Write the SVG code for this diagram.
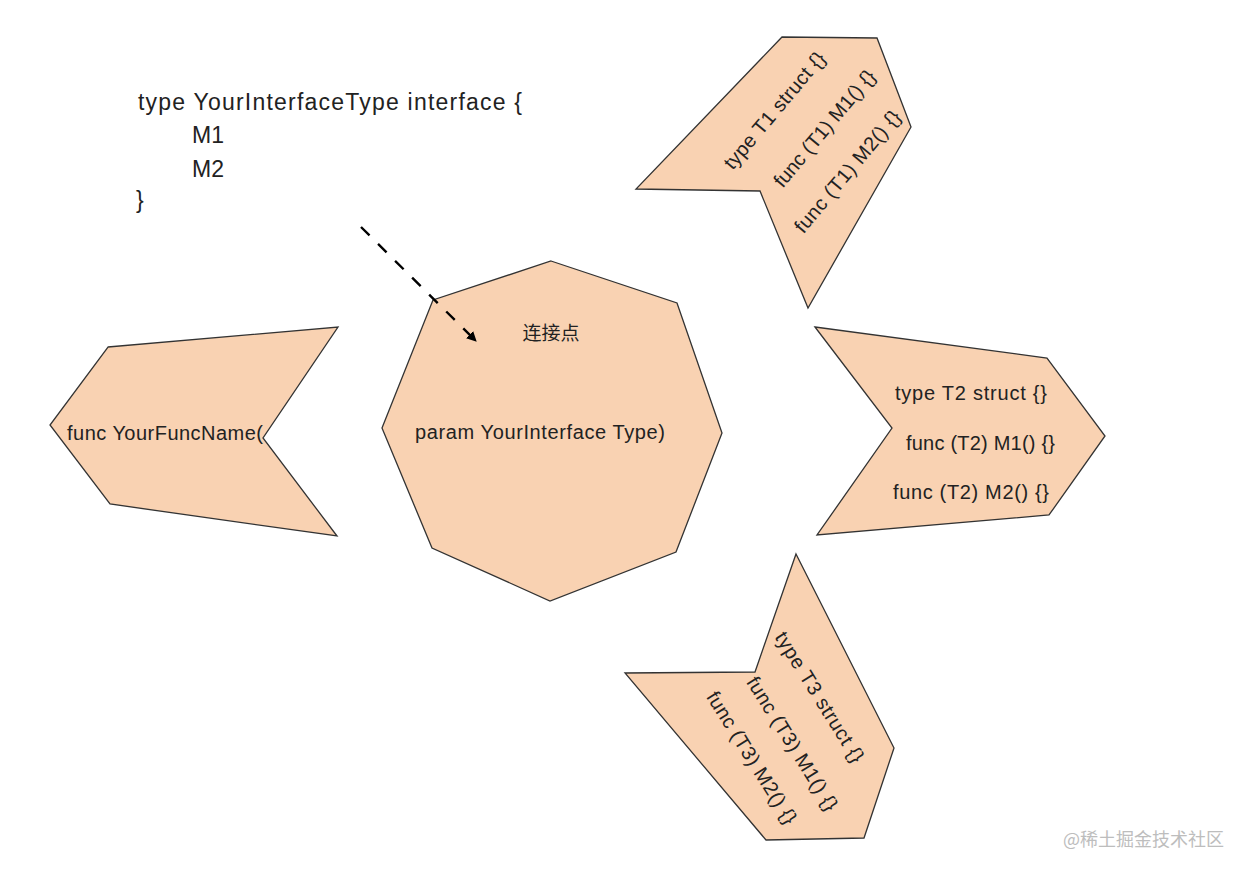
<svg xmlns="http://www.w3.org/2000/svg" width="1247" height="873" viewBox="0 0 1247 873">
<style>
.shape{fill:#F9D2B2;stroke:#333333;stroke-width:1.3;stroke-linejoin:miter}
.t{font-family:"Liberation Sans",Arial,"Noto Sans CJK SC",sans-serif;fill:#222222}
.t20{font-size:20px}
.tr{font-size:20px}
.t23{font-size:23px}
.wm{font-family:"Noto Sans CJK SC","Liberation Sans",sans-serif;font-size:18px;fill:#BDBDBD}
</style>
<defs>
<marker id="arrow" viewBox="0 0 10 10" refX="9" refY="5" markerWidth="10" markerHeight="10" markerUnits="userSpaceOnUse" orient="auto">
<path d="M0,0 L10,5 L0,10 Z" fill="#000000"/>
</marker>
</defs>
<rect width="1247" height="873" fill="#FFFFFF"/>

<g id="interface-def">
<text class="t t23" x="138" y="110" textLength="384" lengthAdjust="spacing">type YourInterfaceType interface {</text>
<text class="t t23" x="192" y="143">M1</text>
<text class="t t23" x="192" y="176.5">M2</text>
<text class="t t23" x="136" y="208">}</text>
</g>

<g id="func-node">
<polygon class="shape" points="108,347 338,327 263,438 337,536 110,504 50,425"/>
<text class="t t20" x="67" y="440" textLength="196" lengthAdjust="spacing">func YourFuncName(</text>
</g>

<g id="octagon-node">
<polygon class="shape" points="551,261 677,303 722,433 676,552 550,601 432,548 382,428 433,300"/>
<text class="t" x="551" y="340" font-size="19" text-anchor="middle">连接点</text>
<text class="t t20" x="415" y="439" textLength="250" lengthAdjust="spacing">param YourInterface Type)</text>
</g>

<g id="t1-node">
<polygon class="shape" points="782,37 877,38 911,127 808,308 760,191 636,189"/>
<g transform="translate(775,111) rotate(-50)"><text class="t tr" x="0" y="6" text-anchor="middle" textLength="146" lengthAdjust="spacing">type T1 struct {}</text></g>
<g transform="translate(825,129) rotate(-50)"><text class="t tr" x="0" y="6" text-anchor="middle" textLength="146" lengthAdjust="spacing">func (T1) M1() {}</text></g>
<g transform="translate(848,172) rotate(-50)"><text class="t tr" x="0" y="6" text-anchor="middle" textLength="153" lengthAdjust="spacing">func (T1) M2() {}</text></g>
</g>

<g id="t2-node">
<polygon class="shape" points="815,327 1047,358 1105,436 1049,515 817,535 892,428"/>
<text class="t t20" x="895" y="400" textLength="152" lengthAdjust="spacing">type T2 struct {}</text>
<text class="t t20" x="906" y="450" textLength="149" lengthAdjust="spacing">func (T2) M1() {}</text>
<text class="t t20" x="893" y="499" textLength="156" lengthAdjust="spacing">func (T2) M2() {}</text>
</g>

<g id="t3-node">
<polygon class="shape" points="796,554 894,748 864,838 766,840 625,673 755,672"/>
<g transform="translate(819,697.5) rotate(58)"><text class="t tr" x="0" y="6" text-anchor="middle" textLength="150" lengthAdjust="spacing">type T3 struct {}</text></g>
<g transform="translate(791.7,744) rotate(58)"><text class="t tr" x="0" y="6" text-anchor="middle" textLength="154" lengthAdjust="spacing">func (T3) M1() {}</text></g>
<g transform="translate(751,758) rotate(58)"><text class="t tr" x="0" y="6" text-anchor="middle" textLength="152" lengthAdjust="spacing">func (T3) M2() {}</text></g>
</g>

<g id="connectors">
<line x1="361" y1="227" x2="476" y2="341" stroke="#000000" stroke-width="2.4" stroke-dasharray="12,12" marker-end="url(#arrow)"/>
</g>

<text class="wm" x="1063" y="846">@稀土掘金技术社区</text>
</svg>
